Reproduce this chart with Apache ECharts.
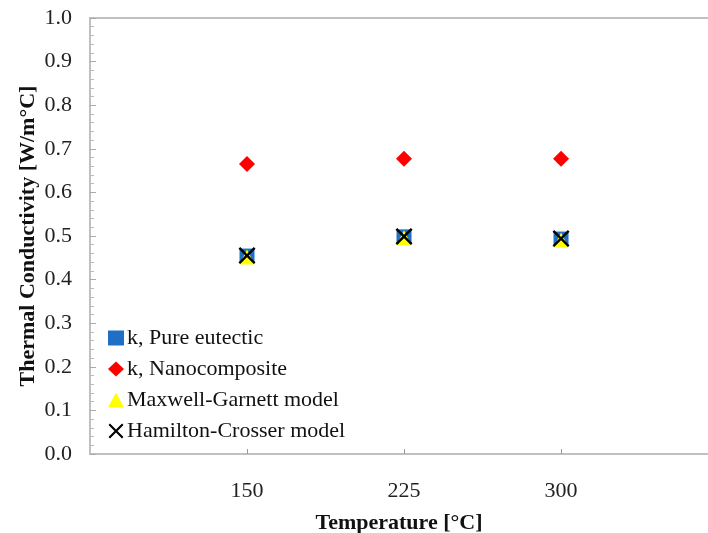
<!DOCTYPE html>
<html>
<head>
<meta charset="utf-8">
<script src="https://cdn.jsdelivr.net/npm/echarts@6/dist/echarts.min.js"></script>
<style>
  html, body { margin: 0; padding: 0; background: #fff; }
  #chart { width: 708px; height: 533px; }
</style>
</head>
<body>
<div id="chart"></div>
<script>
// temperatures (°C) and measured / modelled conductivity (W/m°C)
const temps = [150, 225, 300];
const xTicks = [150, 225, 300];
const pureEutectic = [0.454, 0.498, 0.493];
const nanocomposite = [0.665, 0.677, 0.677];
const maxwellGarnett = [0.452, 0.496, 0.491];
const hamiltonCrosser = [0.455, 0.499, 0.494];

const serif = '"Liberation Serif", "DejaVu Serif", serif';
const xMark = 'path://M2,0 L10,8 L18,0 L20,2 L12,10 L20,18 L18,20 L10,12 L2,20 L0,18 L8,10 L0,2 Z';
const axisGray = '#c0c0c0';

const pairs = (vals) => temps.map((t, i) => [t, vals[i]]);

const chart = echarts.init(document.getElementById('chart'));
chart.setOption({
  animation: false,
  backgroundColor: '#fff',
  textStyle: { fontFamily: serif },
  grid: { left: 90, top: 18, right: 0, height: 436, outerBoundsMode: 'none', containLabel: false },
  legend: {
    orient: 'vertical',
    left: 103, top: 322,
    itemGap: 9,
    itemWidth: 16, itemHeight: 15,
    textStyle: { fontFamily: serif, fontSize: 22, color: '#111', padding: [0, 0, 0, -2] },
    data: ['k, Pure eutectic', 'k, Nanocomposite', 'Maxwell-Garnett model', 'Hamilton-Crosser model'],
  },
  xAxis: [
    {
      type: 'value',
      min: 75, max: 370.2,
      interval: 75,
      splitLine: { show: false },
      axisLine: { lineStyle: { color: axisGray, width: 2 } },
      axisTick: { show: true, inside: true, length: 5, customValues: xTicks, lineStyle: { color: '#999' } },
      axisLabel: { customValues: xTicks, margin: 26, fontSize: 22, color: '#222', fontFamily: serif },
      name: 'Temperature [°C]',
      nameLocation: 'middle',
      nameGap: 58,
      nameMoveOverlap: false,
      nameTextStyle: { fontSize: 22, fontWeight: 'bold', color: '#111', fontFamily: serif },
    },
    {
      // top border of the plot frame
      type: 'value', position: 'top',
      min: 75, max: 370.2,
      axisLine: { show: true, lineStyle: { color: axisGray, width: 2 } },
      axisTick: { show: false },
      axisLabel: { show: false },
      splitLine: { show: false },
    },
  ],
  yAxis: {
    type: 'value',
    min: 0, max: 1, interval: 0.1,
    splitLine: { show: false },
    axisLine: { show: true, lineStyle: { color: axisGray, width: 2 } },
    axisTick: { show: true, inside: true, length: 6, lineStyle: { color: '#aaa' } },
    minorTick: { show: true, splitNumber: 5, length: 4, lineStyle: { color: '#bbb' } },
    axisLabel: {
      margin: 18, fontSize: 22, color: '#222', fontFamily: serif,
      padding: [5, 0, 0, 0],
      formatter: (v) => v.toFixed(1),
    },
    name: 'Thermal Conductivity [W/m°C]',
    nameLocation: 'middle',
    nameGap: 51,
    nameMoveOverlap: false,
    nameTextStyle: { fontSize: 22, fontWeight: 'bold', color: '#111', fontFamily: serif },
  },
  series: [
    {
      name: 'k, Pure eutectic', type: 'scatter',
      symbol: 'rect', symbolSize: 15,
      itemStyle: { color: '#1f6fc4', opacity: 1 },
      data: pairs(pureEutectic),
    },
    {
      name: 'k, Nanocomposite', type: 'scatter',
      symbol: 'diamond', symbolSize: [16, 16],
      itemStyle: { color: '#ff0000', opacity: 1 },
      data: pairs(nanocomposite),
    },
    {
      name: 'Maxwell-Garnett model', type: 'scatter',
      symbol: 'triangle', symbolSize: 15,
      itemStyle: { color: '#ffff00', opacity: 1 },
      data: pairs(maxwellGarnett),
    },
    {
      name: 'Hamilton-Crosser model', type: 'scatter',
      symbol: xMark, symbolSize: 17,
      itemStyle: { color: '#000', opacity: 1 },
      data: pairs(hamiltonCrosser),
    },
  ],
});
</script>
</body>
</html>
